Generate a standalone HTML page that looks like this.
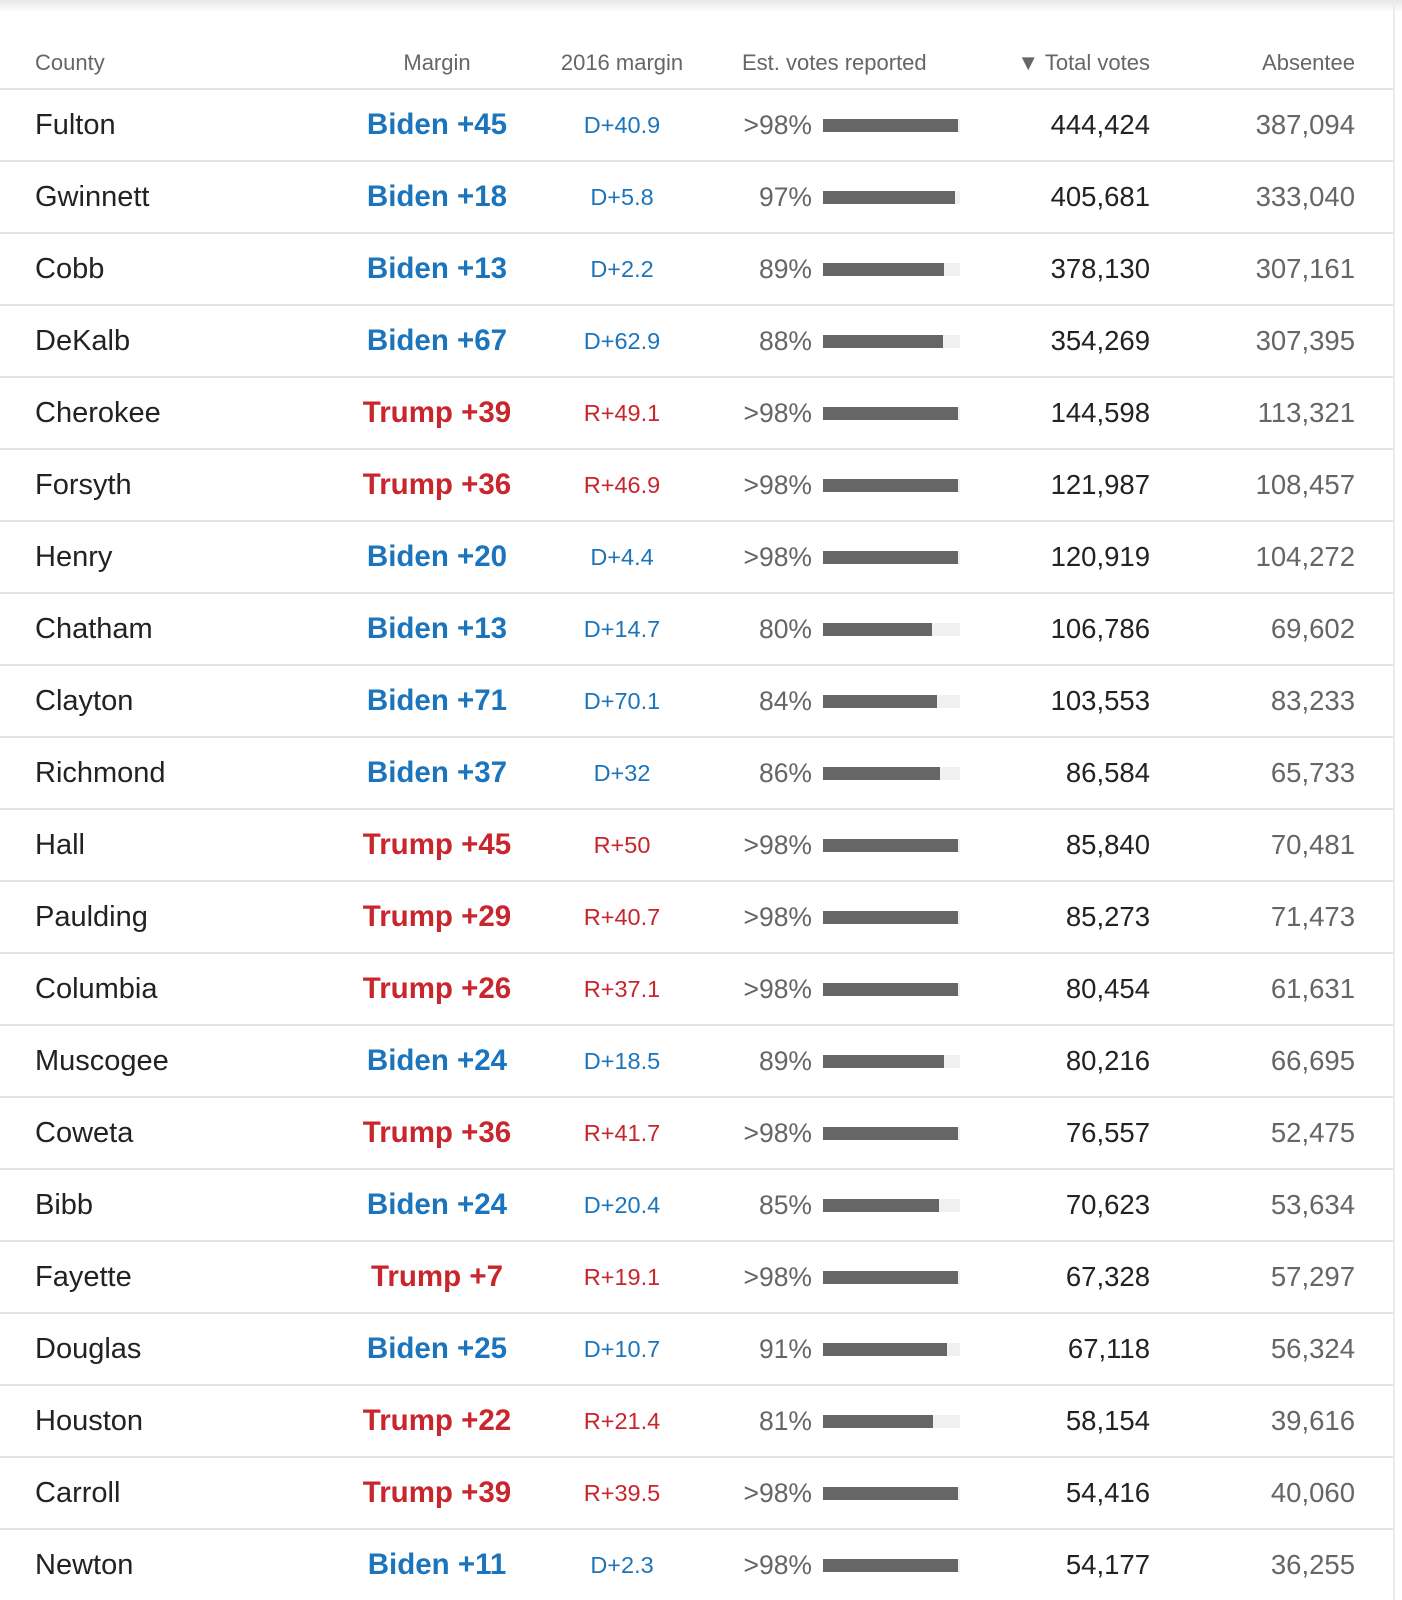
<!DOCTYPE html>
<html><head><meta charset="utf-8">
<style>
body{margin:0;width:1402px;height:1600px;overflow:hidden;background:#fff;font-family:"Liberation Sans",Arial,sans-serif;position:relative}
.topbar{position:absolute;left:0;top:0;width:1402px;height:12px;background:linear-gradient(#e6e6e6,#fff)}
.rborder{position:absolute;left:1393px;top:0;width:2px;height:1600px;background:#ececec}
.t{position:absolute;white-space:nowrap;line-height:1}
.h{font-size:22px;color:#666;top:52px}
.line{position:absolute;left:0;width:1393px;height:2px;background:#e2e2e2}
</style></head><body>
<div class="topbar"></div>
<div class="rborder"></div>
<div class="t h" style="left:35px">County</div>
<div class="t h" style="left:437px;transform:translateX(-50%)">Margin</div>
<div class="t h" style="left:622px;transform:translateX(-50%)">2016 margin</div>
<div class="t h" style="left:742px">Est. votes reported</div>
<div class="t h" style="right:252px">▼ Total votes</div>
<div class="t h" style="right:47px">Absentee</div>
<div class="line" style="top:88px"></div>
<div id="rows"></div>
<script>
const counties=["Fulton","Gwinnett","Cobb","DeKalb","Cherokee","Forsyth","Henry","Chatham","Clayton","Richmond","Hall","Paulding","Columbia","Muscogee","Coweta","Bibb","Fayette","Douglas","Houston","Carroll","Newton"];
const winners=["Biden","Biden","Biden","Biden","Trump","Trump","Biden","Biden","Biden","Biden","Trump","Trump","Trump","Biden","Trump","Biden","Trump","Biden","Trump","Trump","Biden"];
const margins=[45,18,13,67,39,36,20,13,71,37,45,29,26,24,36,24,7,25,22,39,11];
const margins2016=["D+40.9","D+5.8","D+2.2","D+62.9","R+49.1","R+46.9","D+4.4","D+14.7","D+70.1","D+32","R+50","R+40.7","R+37.1","D+18.5","R+41.7","D+20.4","R+19.1","D+10.7","R+21.4","R+39.5","D+2.3"];
const reported=[99,97,89,88,99,99,99,80,84,86,99,99,99,89,99,85,99,91,81,99,99];
const totalVotes=[444424,405681,378130,354269,144598,121987,120919,106786,103553,86584,85840,85273,80454,80216,76557,70623,67328,67118,58154,54416,54177];
const absentee=[387094,333040,307161,307395,113321,108457,104272,69602,83233,65733,70481,71473,61631,66695,52475,53634,57297,56324,39616,40060,36255];
const BLUE="#1c75bc",RED="#c8252c";
const rows=document.getElementById('rows');
const rowY=i=>90+72*i;
const barW=p=>136*Math.min(p,100)/100;
function add(parent,style,text,name,inter){const d=document.createElement('div');d.className='t';d.style.cssText=style;if(text!==null)d.textContent=text;


parent.appendChild(d);return d;}
counties.forEach((c,i)=>{
 const y=rowY(i),cy=y+35;
 const g=document.createElement('div');
 
 
 rows.appendChild(g);
 const col=winners[i]==="Biden"?BLUE:RED;
 add(g,`left:35px;top:${cy-14}px;font-size:29px;color:#222`,c,'county-name','false');
 add(g,`left:437px;top:${cy-15}px;transform:translateX(-50%);font-size:29.5px;font-weight:bold;color:${col}`,winners[i]+" +"+margins[i],'margin-value','false');
 const m=margins2016[i];
 add(g,`left:622px;top:${cy-11}px;transform:translateX(-50%);font-size:23.5px;color:${m[0]==="D"?BLUE:RED}`,m,'margin-2016-value','false');
 add(g,`right:590px;top:${cy-13}px;font-size:26.5px;color:#666`,reported[i]>98?">98%":reported[i]+"%",'reported-pct','false');
 add(g,`left:823px;top:${cy-6}px;width:137px;height:13px;background:#f0f0f0`,null,'reported-bar-track','false');
 add(g,`left:823px;top:${cy-6}px;width:${barW(reported[i])}px;height:13px;background:#666`,null,'reported-bar','false');
 add(g,`right:252px;top:${cy-14}px;font-size:27.5px;color:#222`,totalVotes[i].toLocaleString('en-US'),'total-votes-value','false');
 add(g,`right:47px;top:${cy-14}px;font-size:27.5px;color:#666`,absentee[i].toLocaleString('en-US'),'absentee-value','false');
 if(i<counties.length-1)add(g,`top:${y+70}px;left:0;width:1393px;height:2px;background:#e2e2e2`,null,'row-divider','false');
});
</script>
</body></html>
